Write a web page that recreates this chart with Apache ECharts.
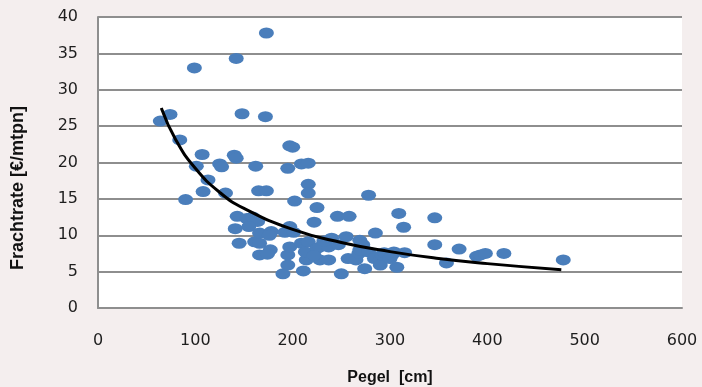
<!DOCTYPE html>
<html><head><meta charset="utf-8">
<script src="https://cdn.jsdelivr.net/npm/echarts@6/dist/echarts.min.js"></script>
<style>html,body{margin:0;padding:0;background:#f4eeee}#c{width:702px;height:387px}</style>
</head><body><div id="c"></div>
<script>
// Scatter data: Pegel [cm] vs Frachtrate [€/mtpn]
const pegel = [64,74,84,90,99,101,107,108,113,125,127,131,142,140,142,148,162,165,173,172,173,
  143,153,159,164,141,155,145,161,166,166,178,176,177,166,174,190,195,195,197,192,197,201,195,197,200,
  202,209,216,216,216,225,222,209,216,211,214,213,225,228,228,237,237,240,247,246,258,250,255,257,265,
  268,269,269,272,274,278,285,278,285,284,290,290,292,294,300,302,304,307,309,314,315,346,346,358,371,
  389,393,398,417,478,222,232];
const frachtrate = [25.7,26.6,23.1,14.9,33.0,19.5,21.1,16.0,17.6,19.8,19.4,15.8,34.3,21.0,20.6,26.7,19.5,16.1,16.1,26.3,37.8,
  12.6,12.3,12.5,11.9,10.9,11.2,8.9,9.1,8.9,10.3,10.5,10.0,8.0,7.3,7.4,4.7,5.9,7.3,8.4,10.4,11.2,10.4,19.2,22.3,22.1,
  14.7,19.8,19.9,17.0,15.8,13.8,11.8,8.9,9.1,5.1,6.6,7.7,8.2,8.4,6.6,6.6,8.4,9.6,8.7,12.6,12.6,4.7,9.8,6.8,6.6,
  7.5,8.0,9.3,8.7,5.4,15.5,10.3,7.7,7.0,6.8,6.6,5.9,7.3,7.6,6.8,7.3,7.7,5.6,13.0,11.1,7.6,12.4,8.7,6.2,8.1,
  7.1,7.3,7.5,7.5,6.6,7.2,9.2];
// Trend line (power trendline)
const trendPegel = [65,80,100,125,150,200,250,300,350,400,476];
const trendFracht = [27.5,23.1,19.2,15.9,13.7,10.8,9.0,7.75,6.8,6.1,5.25];

const xMin = 0, xMax = 600, xStep = 100;
const yMin = 0, yMax = 40, yStep = 5;

const scatterData = pegel.map((p, i) => [p, frachtrate[i]]);
const trendData = trendPegel.map((p, i) => [p, trendFracht[i]]);

const chart = echarts.init(document.getElementById('c'), null, {renderer: 'canvas'});
const gridColor = '#8e8e8e';
chart.setOption({
  backgroundColor: '#f4eeee',
  animation: false,
  grid: {left: 98, right: 20, top: 17, bottom: 79, show: true, backgroundColor: '#ffffff', borderWidth: 0},
  xAxis: {
    type: 'value', min: xMin, max: xMax, interval: xStep,
    axisLine: {show: true, onZero: false, lineStyle: {color: gridColor, width: 2}},
    axisTick: {show: false},
    splitLine: {show: false},
    axisLabel: {color: '#1e1e1e', fontFamily: 'DejaVu Sans', fontSize: 16, margin: 25}
  },
  yAxis: {
    type: 'value', min: yMin, max: yMax, interval: yStep,
    axisLine: {show: true, lineStyle: {color: gridColor, width: 2}},
    axisTick: {show: false},
    splitLine: {show: true, lineStyle: {color: gridColor, width: 2}},
    axisLabel: {color: '#1e1e1e', fontFamily: 'DejaVu Sans', fontSize: 16, margin: 20}
  },
  graphic: [
    {type: 'text', x: 390, y: 378, z: 10,
      style: {text: 'Pegel  [cm]', fill: '#111', font: 'bold 16px "Liberation Sans", Arial, sans-serif', textAlign: 'center', textVerticalAlign: 'middle'}},
    {type: 'text', x: 18, y: 188, rotation: Math.PI / 2, z: 10,
      style: {text: 'Frachtrate [€/mtpn]', fill: '#111', font: 'bold 18px "Liberation Sans Narrow", "Liberation Sans", Arial, sans-serif', textAlign: 'center', textVerticalAlign: 'middle'}}
  ],
  series: [
    {type: 'scatter', data: scatterData, symbol: 'circle', symbolSize: [15, 11],
      itemStyle: {color: '#4a7ebb', opacity: 1}, z: 2},
    {type: 'line', data: trendData, smooth: true, symbol: 'none',
      lineStyle: {color: '#000', width: 3}, z: 3}
  ]
});
</script>
</body></html>
